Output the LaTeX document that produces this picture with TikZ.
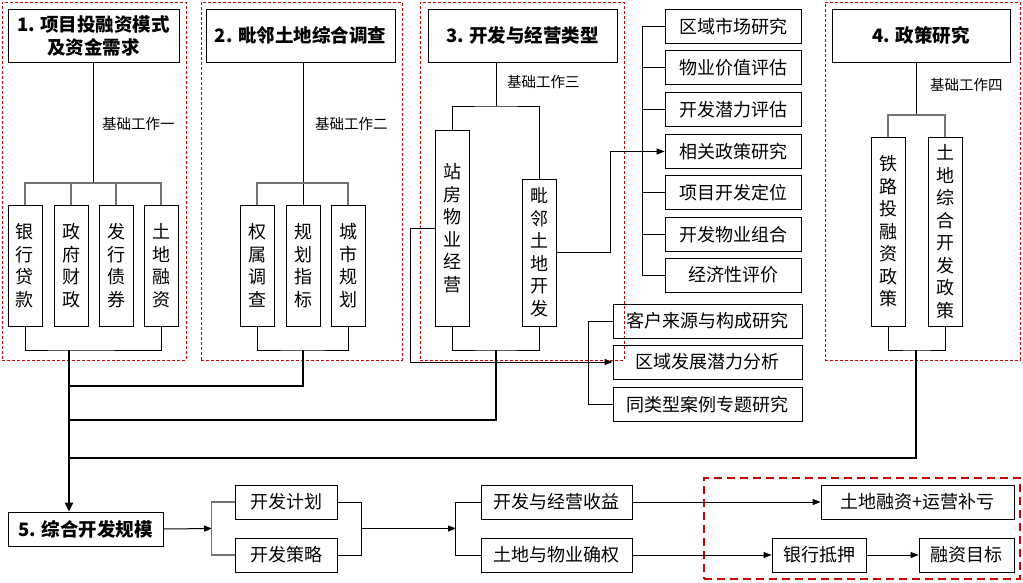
\documentclass[tikz,border=0pt]{standalone}
\usepackage{fontspec}
\setmainfont{Noto Sans CJK SC}
\usetikzlibrary{arrows.meta,positioning,calc}
\definecolor{groupred}{RGB}{204,0,0}

\begin{document}
\begin{tikzpicture}[
  x=1pt, y=-1pt,
  box/.style={draw, line width=.8pt, minimum height=34pt, inner sep=0pt, font=\fontsize{18pt}{22.5pt}\selectfont},
  head/.style={draw, line width=.8pt, minimum height=53pt, inner sep=0pt, align=center, font=\fontsize{18.5pt}{23pt}\selectfont\bfseries},
  vbox/.style={draw, line width=.8pt, minimum width=34pt, inner sep=0pt, align=center, font=\fontsize{18pt}{22.5pt}\selectfont},
  group/.style={draw=groupred, dash pattern=on 3pt off 2pt, line width=.8pt, inner sep=0pt},
  zone/.style={draw=groupred, dash pattern=on 8pt off 5pt, line width=2pt, inner sep=0pt},
  note/.style={anchor=west, inner sep=0pt, font=\fontsize{14.5pt}{16pt}\selectfont},
  link/.style={line width=1pt},
  bar/.style={line width=1.6pt, draw=black!55},
  trunk/.style={line width=2.2pt},
  flow/.style={-{Triangle[length=8pt,width=6pt]}, line width=1pt}
]
\path[use as bounding box, fill=white] (0,0) rectangle (1023,582);

% four groups of basic work
\node[group, minimum width=184pt, minimum height=358pt] (fin-group) at (94,181) {};
\node[group, minimum width=201pt, minimum height=358pt] (adj-group) at (301.5,181) {};
\node[group, minimum width=204pt, minimum height=358pt] (dev-group) at (522,181) {};
\node[group, minimum width=195pt, minimum height=358pt] (pol-group) at (922.5,181) {};

\node[head, minimum width=171pt] (fin-head) at (93.5,35.5) {1. 项目投融资模式\\及资金需求};
\node[head, minimum width=189pt] (adj-head) at (300.5,35.5) {2. 毗邻土地综合调查};
\node[head, minimum width=189pt] (dev-head) at (522.5,35.5) {3. 开发与经营类型};
\node[head, minimum width=178pt] (pol-head) at (921,35.5) {4. 政策研究};

\node[vbox, minimum height=121pt] (loan) at (25,265.5) {银\\行\\贷\\款};
\node[vbox, minimum height=121pt] (gov) at (71,265.5) {政\\府\\财\\政};
\node[vbox, minimum height=121pt] (bond) at (116,265.5) {发\\行\\债\\券};
\node[vbox, minimum height=121pt] (landfin) at (161,265.5) {土\\地\\融\\资};

\node[vbox, minimum height=121pt] (rights) at (257,265.5) {权\\属\\调\\查};
\node[vbox, minimum height=121pt] (plan-idx) at (303,265.5) {规\\划\\指\\标};
\node[vbox, minimum height=121pt] (city-plan) at (348,265.5) {城\\市\\规\\划};

\node[vbox, minimum height=196pt] (station) at (452,228) {站\\房\\物\\业\\经\\营};
\node[vbox, minimum height=147pt] (adj-dev) at (539,252.5) {毗\\邻\\土\\地\\开\\发};

\node[vbox, minimum height=189pt] (rail-pol) at (888,231.5) {铁\\路\\投\\融\\资\\政\\策};
\node[vbox, minimum height=189pt] (land-pol) at (945,231.5) {土\\地\\综\\合\\开\\发\\政\\策};

\node[note] (note-a) at (102,124) {基础工作一};
\node[note] (note-b) at (315,124) {基础工作二};
\node[note] (note-c) at (507,82) {基础工作三};
\node[note] (note-d) at (930,85) {基础工作四};

% research items
\node[box, minimum width=136pt] (market) at (733,26.5) {区域市场研究};
\node[box, minimum width=136pt] (value) at (733,67.5) {物业价值评估};
\node[box, minimum width=136pt] (potential) at (733,109.5) {开发潜力评估};
\node[box, minimum width=136pt] (policy) at (733,151.5) {相关政策研究};
\node[box, minimum width=136pt] (position) at (733,192.5) {项目开发定位};
\node[box, minimum width=136pt] (mix) at (733,234.5) {开发物业组合};
\node[box, minimum width=136pt] (econ) at (733,275) {经济性评价};

\node[box, minimum width=189pt] (client) at (707.5,321) {客户来源与构成研究};
\node[box, minimum width=189pt] (region) at (707.5,362) {区域发展潜力分析};
\node[box, minimum width=189pt] (case) at (707.5,404.5) {同类型案例专题研究};

% bottom chain
\node[box, minimum width=155pt, font=\fontsize{18.5pt}{23pt}\selectfont\bfseries] (scale) at (85.5,529) {5. 综合开发规模};
\node[box, minimum width=102pt] (plan) at (286,502) {开发计划};
\node[box, minimum width=102pt] (strategy) at (286,555) {开发策略};
\node[box, minimum width=151pt] (revenue) at (556.5,502) {开发与经营收益};
\node[box, minimum width=151pt] (rights-cert) at (556.5,555) {土地与物业确权};
\node[zone, minimum width=316pt, minimum height=101pt] (fin-zone) at (862,528.5) {};
\node[box, minimum width=193pt] (land-op) at (917.5,502) {土地融资+运营补亏};
\node[box, minimum width=94pt] (bank) at (819,555) {银行抵押};
\node[box, minimum width=95pt] (target) at (966.5,555) {融资目标};

\coordinate (fin-top) at (93,183);
\coordinate (adj-top) at (303,183);
\coordinate (dev-top) at (496,106);
\coordinate (pol-top) at (916,115);
\coordinate (fin-bot) at (69,350);
\coordinate (adj-bot) at (303,350);
\coordinate (dev-bot) at (496,350);
\coordinate (pol-bot) at (916,350);
\coordinate (trunk-a) at (69,386);
\coordinate (trunk-b) at (69,420);
\coordinate (trunk-c) at (69,458);
\coordinate (plan-fork) at (212,528.5);
\coordinate (plan-join) at (361,528.5);
\coordinate (rev-fork) at (456,528.5);

\draw[link] (fin-head.south -| fin-top) -- (fin-top);
\draw[bar] (loan.north) |- (fin-top) -| (landfin.north);
\draw[bar] (gov.north) -- (gov.north |- fin-top);
\draw[bar] (bond.north) -- (bond.north |- fin-top);
\draw[link] (loan.south) |- (fin-bot) -| (landfin.south);

\draw[link] (adj-head.south -| plan-idx) -- (plan-idx.north);
\draw[bar] (rights.north) |- (adj-top) -| (city-plan.north);
\draw[link] (rights.south) |- (adj-bot) -| (city-plan.south);

\draw[link] (dev-head.south -| dev-top) -- (dev-top);
\draw[link] (station.north) |- (dev-top) -| (adj-dev.north);
\draw[link] (station.south) |- (dev-bot) -| (adj-dev.south);

\draw[link] (pol-head.south -| pol-top) -- (pol-top);
\draw[bar] (rail-pol.north) |- (pol-top) -| (land-pol.north);
\draw[link] (rail-pol.south) |- (pol-bot) -| (land-pol.south);

\draw[link] (market.west) -- ++(-22,0) |- (econ.west);
\draw[link] (value.west) -- ++(-22,0);
\draw[link] (potential.west) -- ++(-22,0);
\draw[link] (position.west) -- ++(-22,0);
\draw[link] (mix.west) -- ++(-22,0);
\draw[flow] (adj-dev.east) -- ++(54,0) |- (policy.west);

\draw[link] (client.west) -- ++(-24,0) |- (case.west);
\draw[flow] (station.west) -- ++(-24,0) |- (region.west);

\draw[trunk] (adj-bot) |- (trunk-a);
\draw[trunk] (dev-bot) |- (trunk-b);
\draw[trunk] (pol-bot) |- (trunk-c);
\draw[trunk, -{Triangle[length=9pt,width=8pt]}] (fin-bot) -- (fin-bot |- scale.north);

\draw[flow] (scale.east) -- (plan-fork);
\draw[bar] (plan.west) -- ++(-23,0) |- (strategy.west);
\draw[link] (plan.east) -- ++(24,0) |- (strategy.east);
\draw[flow] (plan-join) -- (rev-fork);
\draw[link] (revenue.west) -- ++(-25,0) |- (rights-cert.west);
\draw[flow] (revenue) -- (land-op);
\draw[flow] (rights-cert) -- (bank);
\draw[flow] (bank) -- (target);
\end{tikzpicture}
\end{document}
